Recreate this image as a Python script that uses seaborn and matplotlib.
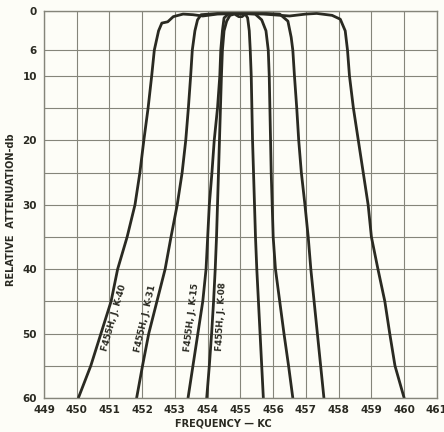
import pandas as pd
import seaborn as sns
import matplotlib.pyplot as plt

# Attenuation curves (frequency in kc, attenuation in db)
k40_freq = [450.05, 450.43, 450.74, 451.05, 451.25, 451.54, 451.78, 451.93, 452.05, 452.18, 452.29, 452.37,
            452.5, 452.6, 452.78, 452.95, 453.25, 453.55, 453.85, 454.3, 455.0, 455.7, 456.1, 456.5, 457.0,
            457.33, 457.8, 458.05, 458.2, 458.27, 458.33, 458.45, 458.6, 458.75, 458.9, 459.0, 459.2,
            459.41, 459.56, 459.72, 460.0]
k40_db = [60, 55, 50, 45, 40, 35, 30, 25, 20, 15, 10, 6,
          3, 1.8, 1.6, 0.8, 0.4, 0.5, 0.7, 0.4, 0.3, 0.4, 0.55, 0.7, 0.4,
          0.3, 0.6, 1.2, 3, 6, 10, 15, 20, 25, 30, 35, 40,
          45, 50, 55, 60]

k31_freq = [451.83, 452.01, 452.2, 452.45, 452.7, 452.88, 453.07, 453.22, 453.33, 453.41, 453.48, 453.53,
            453.61, 453.69, 453.8, 454.3, 455.0, 455.8, 456.2, 456.45, 456.55,
            456.6, 456.65, 456.72, 456.78, 456.86, 456.97, 457.07, 457.15, 457.25, 457.35, 457.45, 457.55]
k31_db = [60, 55, 50, 45, 40, 35, 30, 25, 20, 15, 10, 6,
          3, 1.3, 0.5, 0.3, 0.3, 0.3, 0.4, 1.5, 4,
          6, 10, 15, 20, 25, 30, 35, 40, 45, 50, 55, 60]

k15_freq = [453.4, 453.55, 453.7, 453.85, 453.95, 454.0, 454.05, 454.13, 454.2, 454.3, 454.37, 454.4,
            454.45, 454.5, 454.65, 455.0,
            455.45, 455.65, 455.78, 455.85, 455.88, 455.9, 455.92, 455.94, 455.97, 456.0, 456.07,
            456.2, 456.33, 456.47, 456.6]
k15_db = [60, 55, 50, 45, 40, 35, 30, 25, 20, 15, 10, 6,
          3, 1, 0.3, 0.3,
          0.4, 1.3, 3, 6, 10, 15, 20, 25, 30, 35, 40,
          45, 50, 55, 60]

k08_freq = [453.97, 454.05, 454.12, 454.18, 454.23, 454.27, 454.3, 454.33, 454.36, 454.39, 454.42, 454.45,
            454.5, 454.58, 454.68, 454.82, 454.95, 455.05, 455.15, 455.22,
            455.27, 455.3, 455.33, 455.35, 455.37, 455.4, 455.43, 455.46, 455.5, 455.55, 455.6, 455.65, 455.7]
k08_db = [60, 55, 50, 45, 40, 35, 30, 25, 20, 15, 10, 6,
          3, 1.5, 0.6, 0.4, 0.8, 0.8, 0.4, 1.0,
          3, 6, 10, 15, 20, 25, 30, 35, 40, 45, 50, 55, 60]

filters = ["F455H, J. K-40", "F455H, J. K-31", "F455H, J. K-15", "F455H, J. K-08"]
# label placement (freq, db, angle) for each curve name
label_freq = [451.15, 452.11, 453.52, 454.43]
label_db = [47.6, 47.6, 47.5, 47.3]
label_angle = [74, 77, 83, 87]

x_ticks = list(range(449, 462))
y_ticks = [0, 6, 10, 20, 30, 40, 50, 60]
y_grid = [6, 10, 15, 20, 25, 30, 35, 40, 45, 50, 55]

ink = "#2a2a22"
grid_col = "#85857a"

df = pd.concat([
    pd.DataFrame({"freq": f, "db": d, "filter": name})
    for f, d, name in zip([k40_freq, k31_freq, k15_freq, k08_freq],
                          [k40_db, k31_db, k15_db, k08_db], filters)
])

sns.set_style("white")
plt.rcParams['font.family'] = ['DejaVu Sans']

fig = plt.figure(figsize=(4.44, 4.32), dpi=100)
fig.patch.set_facecolor("#fdfdf7")
ax = fig.add_axes([0.099, 0.0787, 0.885, 0.8947])
ax.set_facecolor("#fdfdf7")

sns.lineplot(data=df, x="freq", y="db", hue="filter", palette=[ink] * 4,
             sort=False, estimator=None, linewidth=2.0, legend=False, ax=ax)

ax.set_xlim(449, 461)
ax.set_ylim(60, 0)
ax.set_xticks(x_ticks)
ax.set_xticklabels([str(t) for t in x_ticks])
ax.set_yticks(y_ticks)
ax.set_yticks(y_grid, minor=True)
ax.tick_params(axis="both", which="both", length=0)
ax.tick_params(axis="both", labelsize=7.5, labelcolor=ink, pad=5)
for lbl in ax.get_xticklabels() + ax.get_yticklabels():
    lbl.set_fontweight("bold")
ax.grid(True, which="both", color=grid_col, linewidth=0.8)
ax.set_axisbelow(True)
for s in ax.spines.values():
    s.set_color(grid_col)
    s.set_linewidth(1.0)

ax.set_xlabel("")
ax.set_ylabel("")
fig.text(0.502, 0.020, "FREQUENCY \u2014 KC", ha="center", va="center",
         fontsize=7, fontweight="bold", color=ink)
fig.text(0.024, 0.515, "RELATIVE  ATTENUATION-db", ha="center", va="center",
         rotation=90, fontsize=7, fontweight="bold", color=ink)

for name, fx, fy, ang in zip(filters, label_freq, label_db, label_angle):
    ax.text(fx, fy, name, rotation=ang, ha="center", va="center",
            rotation_mode="anchor", fontsize=6.3, fontweight="bold", color=ink)

fig.savefig("out.png", dpi=100, facecolor=fig.get_facecolor())
